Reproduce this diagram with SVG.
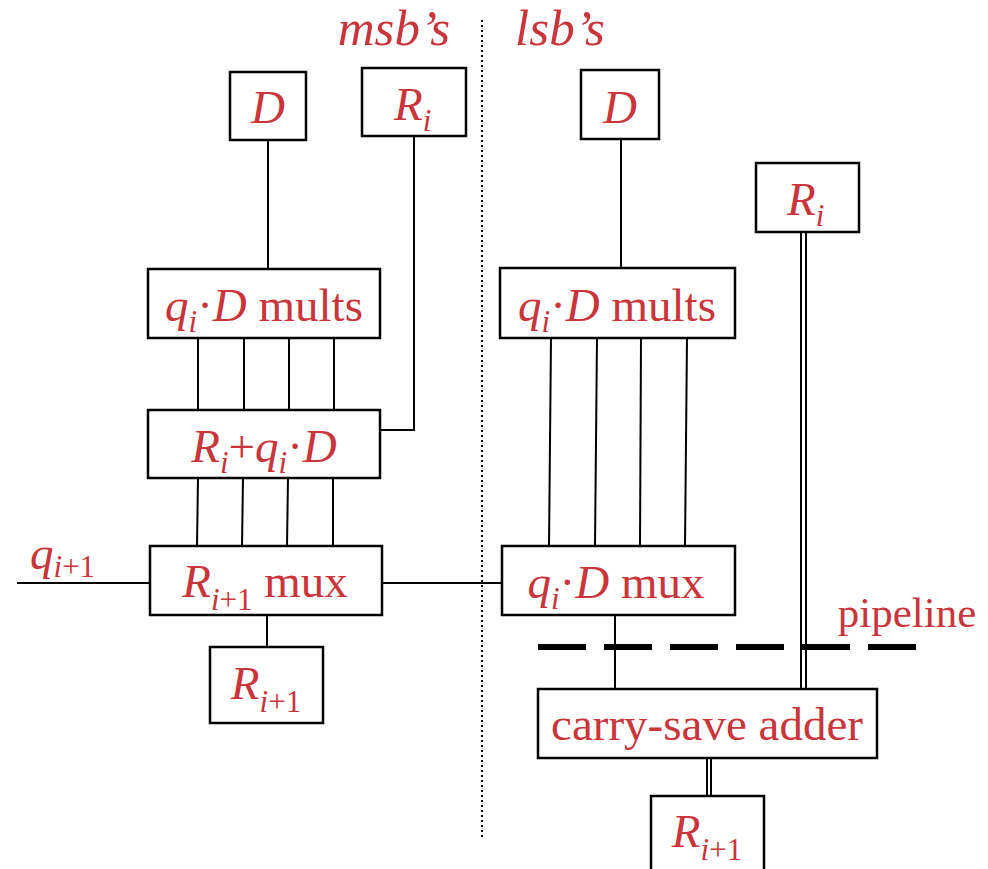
<svg xmlns="http://www.w3.org/2000/svg" width="988" height="869" viewBox="0 0 988 869">
<style>
.box{fill:#fff;stroke:#000;stroke-width:2.5}
.ln{stroke:#000;stroke-width:2;fill:none}
.t{font-family:"Liberation Serif","Times New Roman",Times,serif;font-size:47px;fill:#c9353a}
.i{font-style:italic}
.n{font-style:normal}
.s{font-size:31px}
.hd{font-size:51px}
.pl{font-size:43px}
</style>
<rect width="988" height="869" fill="#fff"/>
<g id="connectors">
<line class="ln" x1="482" y1="20" x2="482" y2="837" stroke-dasharray="2 3" stroke-width="2.5"/>
<line class="ln" x1="268" y1="140" x2="268" y2="269"/>
<polyline class="ln" points="414,136 414,430 380,430"/>
<line class="ln" x1="198" y1="338" x2="198" y2="410"/>
<line class="ln" x1="244" y1="338" x2="244" y2="410"/>
<line class="ln" x1="289" y1="338" x2="289" y2="410"/>
<line class="ln" x1="334" y1="338" x2="334" y2="410"/>
<line class="ln" x1="198" y1="478" x2="197" y2="546"/>
<line class="ln" x1="243" y1="478" x2="242" y2="546"/>
<line class="ln" x1="288" y1="478" x2="287" y2="546"/>
<line class="ln" x1="333" y1="478" x2="333" y2="546"/>
<line class="ln" x1="17" y1="583" x2="150" y2="583"/>
<line class="ln" x1="382" y1="583" x2="502" y2="583"/>
<line class="ln" x1="267" y1="615" x2="267" y2="647"/>
<line class="ln" x1="621" y1="139" x2="621" y2="268"/>
<line class="ln" x1="551" y1="338" x2="549" y2="546"/>
<line class="ln" x1="597" y1="338" x2="595" y2="546"/>
<line class="ln" x1="641" y1="338" x2="640" y2="546"/>
<line class="ln" x1="687" y1="338" x2="685" y2="546"/>
<line class="ln" x1="615" y1="615" x2="615" y2="689"/>
<line class="ln" x1="801" y1="232" x2="801" y2="689"/>
<line class="ln" x1="806" y1="232" x2="806" y2="689"/>
<line class="ln" x1="707" y1="758" x2="707" y2="796"/>
<line class="ln" x1="711" y1="758" x2="711" y2="796"/>
<line x1="538" y1="647" x2="916" y2="647" stroke="#000" stroke-width="6" stroke-dasharray="48 18"/>
</g>
<g id="labels">
<text class="t i hd" x="394" y="45" text-anchor="middle">msb’s</text>
<text class="t i hd" x="560" y="45" text-anchor="middle">lsb’s</text>
<text class="t pl" x="907" y="627" text-anchor="middle">pipeline</text>
<text class="t i" x="30" y="569">q<tspan class="s n" dy="8"><tspan class="i">i</tspan>+1</tspan></text>
</g>
<g id="D-left">
<rect class="box" x="230" y="72" width="76" height="68"/>
<text class="t i" x="268" y="123" text-anchor="middle">D</text>
</g>
<g id="Ri-top">
<rect class="box" x="362" y="68" width="104" height="68"/>
<text class="t i" x="394" y="120">R<tspan class="s" dy="11">i</tspan></text>
</g>
<g id="D-right">
<rect class="box" x="581" y="70" width="78" height="69"/>
<text class="t i" x="620" y="123" text-anchor="middle">D</text>
</g>
<g id="Ri-right">
<rect class="box" x="756" y="163" width="103" height="69"/>
<text class="t i" x="787" y="215">R<tspan class="s" dy="11">i</tspan></text>
</g>
<g id="mults-left">
<rect class="box" x="148" y="269" width="232" height="69"/>
<text class="t" x="264" y="321" text-anchor="middle"><tspan class="i">q</tspan><tspan class="s i" dy="11">i</tspan><tspan dy="-11">·</tspan><tspan class="i">D</tspan> mults</text>
</g>
<g id="adder-left">
<rect class="box" x="148" y="410" width="232" height="68"/>
<text class="t" x="264" y="462" text-anchor="middle"><tspan class="i">R</tspan><tspan class="s i" dy="11">i</tspan><tspan dy="-11">+</tspan><tspan class="i">q</tspan><tspan class="s i" dy="11">i</tspan><tspan dy="-11">·</tspan><tspan class="i">D</tspan></text>
</g>
<g id="mux-left">
<rect class="box" x="150" y="546" width="232" height="69"/>
<text class="t" x="265" y="597" text-anchor="middle"><tspan class="i">R</tspan><tspan class="s" dy="13"><tspan class="i">i</tspan>+1</tspan><tspan dy="-13"> mux</tspan></text>
</g>
<g id="Ri1-left">
<rect class="box" x="210" y="647" width="113" height="76"/>
<text class="t" x="266" y="699" text-anchor="middle"><tspan class="i">R</tspan><tspan class="s" dy="13"><tspan class="i">i</tspan>+1</tspan></text>
</g>
<g id="mults-right">
<rect class="box" x="500" y="268" width="235" height="70"/>
<text class="t" x="617" y="321" text-anchor="middle"><tspan class="i">q</tspan><tspan class="s i" dy="11">i</tspan><tspan dy="-11">·</tspan><tspan class="i">D</tspan> mults</text>
</g>
<g id="mux-right">
<rect class="box" x="502" y="546" width="233" height="69"/>
<text class="t" x="616" y="598" text-anchor="middle"><tspan class="i">q</tspan><tspan class="s i" dy="11">i</tspan><tspan dy="-11">·</tspan><tspan class="i">D</tspan> mux</text>
</g>
<g id="csa">
<rect class="box" x="538" y="689" width="339" height="69"/>
<text class="t" x="707" y="740" text-anchor="middle">carry-save adder</text>
</g>
<g id="Ri1-right">
<rect class="box" x="651" y="796" width="113" height="90"/>
<text class="t" x="707" y="847" text-anchor="middle"><tspan class="i">R</tspan><tspan class="s" dy="13"><tspan class="i">i</tspan>+1</tspan></text>
</g>
</svg>
